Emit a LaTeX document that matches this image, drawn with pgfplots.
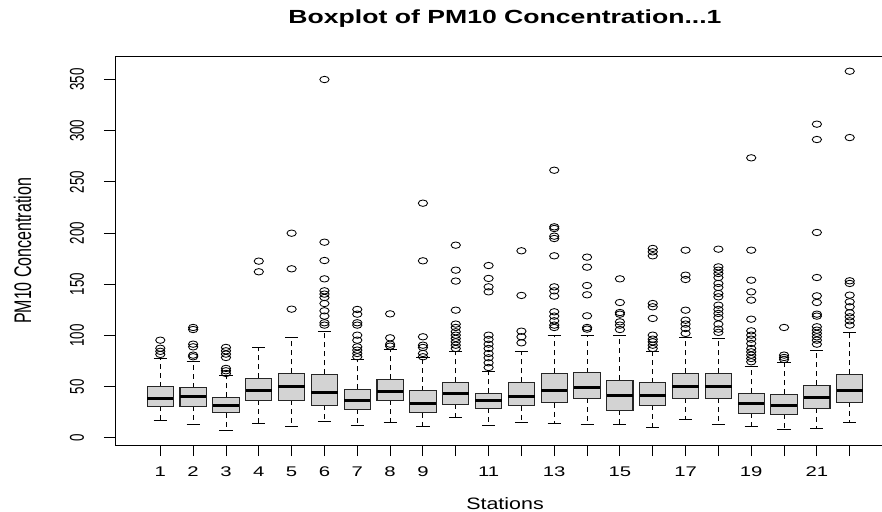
\documentclass[border=0pt]{standalone}
\usepackage{fontspec}
\setmainfont{Liberation Sans}
\newfontfamily\hfont[FakeStretch=1.45]{Liberation Sans}
\newfontfamily\sfont[FakeStretch=1.3]{Liberation Sans}
\newfontfamily\tfont[FakeStretch=1.4]{Liberation Sans}
\newfontfamily\vfont[FakeStretch=0.667]{Liberation Sans}
\usepackage{pgfplots}
\usepgfplotslibrary{statistics}
\pgfplotsset{compat=1.18}
\definecolor{boxgray}{HTML}{D3D3D3}
\pgfplotsset{
  /pgfplots/boxplot/every box/.style={draw=black!85, fill=boxgray, line width=1.1pt},
  /pgfplots/boxplot/every median/.style={draw=black, line width=3pt},
  /pgfplots/boxplot/draw/upper whisker/.code={%
    \draw[black, line width=0.9pt, dash pattern=on 5pt off 4pt]
      (boxplot box cs:\pgfplotsboxplotvalue{upper quartile},0.5) -- (boxplot box cs:\pgfplotsboxplotvalue{upper whisker},0.5);
    \draw[black, line width=0.9pt]
      (boxplot whisker cs:\pgfplotsboxplotvalue{upper whisker},0) -- (boxplot whisker cs:\pgfplotsboxplotvalue{upper whisker},1);
  },
  /pgfplots/boxplot/draw/lower whisker/.code={%
    \draw[black, line width=0.9pt, dash pattern=on 5pt off 4pt]
      (boxplot box cs:\pgfplotsboxplotvalue{lower quartile},0.5) -- (boxplot box cs:\pgfplotsboxplotvalue{lower whisker},0.5);
    \draw[black, line width=0.9pt]
      (boxplot whisker cs:\pgfplotsboxplotvalue{lower whisker},0) -- (boxplot whisker cs:\pgfplotsboxplotvalue{lower whisker},1);
  },
}
\newcommand{\bp}[7]{%
\addplot[black, mark=o, mark size=3.2pt, mark options={solid, xscale=1.45, line width=0.85pt},
  boxplot prepared={draw direction=y, draw position=#1, box extend=0.8, whisker extend=0.4, lower whisker=#2, lower quartile=#3, median=#4, upper quartile=#5, upper whisker=#6}]
  coordinates {#7};}
\begin{document}
\begin{tikzpicture}[x=1pt,y=1pt]
\begin{axis}[
  at={(115pt,66pt)}, anchor=south west,
  scale only axis, width=780pt, height=388pt,
  xmin=-0.38, xmax=23.38, ymin=-7, ymax=372,
  /pgf/number format/assume math mode=true,
  axis line style={line width=1pt, black},
  tick align=outside, tick pos=left,
  major tick length=11pt,
  tick style={line width=0.9pt, black},
  xtick={1,2,3,4,5,6,7,8,9,11,13,15,17,19,21},
  extra x ticks={10,12,14,16,18,20,22},
  extra x tick labels={},
  ytick={0,50,...,350},
  xticklabel style={font=\hfont\fontsize{14}{16}\selectfont, anchor=base, inner sep=0pt, yshift=-20pt},
  yticklabel style={font=\vfont\fontsize{20}{22}\selectfont, xshift=-20pt, rotate=90, anchor=base, inner sep=0pt},
  title={Boxplot of PM10 Concentration...1},
  title style={font=\tfont\bfseries\fontsize{19}{22}\selectfont, at={(axis description cs:0.5,1.0714)}, anchor=base, inner sep=0pt},
  xlabel={Stations},
  xlabel style={font=\sfont\fontsize{16.5}{19}\selectfont, at={(axis description cs:0.5,-0.165)}, anchor=base, inner sep=0pt},
  ylabel={PM10 Concentration},
  ylabel style={font=\vfont\fontsize{24}{26}\selectfont, at={(axis description cs:-0.1186,0.5)}, anchor=center, inner sep=0pt},
]
\bp{1}{17.3}{31.0}{38.5}{49.9}{77.5}{(0,95.4) (0,87.5) (0,84.5) (0,81.5)}
\bp{2}{13.1}{31.0}{40.1}{48.9}{74.3}{(0,107.8) (0,105.8) (0,91.5) (0,88.9) (0,80.8) (0,79.2)}
\bp{3}{7.5}{24.5}{32.0}{39.4}{61.3}{(0,88.3) (0,85.0) (0,81.8) (0,78.5) (0,67.8) (0,65.5) (0,62.9)}
\bp{4}{14.1}{36.8}{46.0}{58.0}{88.3}{(0,172.6) (0,162.2)}
\bp{5}{10.8}{36.8}{49.9}{62.9}{98.0}{(0,199.9) (0,165.1) (0,125.7)}
\bp{6}{15.7}{32.0}{44.3}{61.9}{104.2}{(0,350) (0,191.1) (0,173.2) (0,155.3) (0,143.6) (0,140.4) (0,137.1) (0,131.2) (0,124.1) (0,118.9) (0,112.4) (0,110.1)}
\bp{7}{12.4}{28.1}{36.2}{47.3}{76.5}{(0,125.4) (0,120.8) (0,112.4) (0,110.1) (0,100.3) (0,95.4) (0,88.9) (0,85.7) (0,82.4) (0,79.2)}
\bp{8}{15.0}{36.8}{45.0}{57.0}{86.3}{(0,121.1) (0,97.7) (0,91.5) (0,89.6)}
\bp{9}{11.4}{24.5}{33.6}{46.0}{78.2}{(0,229.2) (0,172.9) (0,98.7) (0,90.5) (0,88.3) (0,82.4) (0,79.2)}
\bp{10}{19.6}{32.9}{43.4}{54.1}{84.0}{(0,188.2) (0,163.8) (0,153.1) (0,124.7) (0,111.1) (0,107.8) (0,103.6) (0,100.3) (0,97.1) (0,93.8) (0,90.5) (0,87.3)}
\bp{11}{11.8}{28.7}{36.2}{43.4}{64.5}{(0,168.3) (0,155.7) (0,147.5) (0,142.6) (0,100.3) (0,96.1) (0,91.5) (0,87.3) (0,82.4) (0,78.2) (0,73.3) (0,68.7)}
\bp{12}{15.0}{31.3}{40.7}{54.1}{84.0}{(0,182.7) (0,139.1) (0,104.2) (0,98.7) (0,92.8)}
\bp{13}{14.1}{34.2}{46.6}{62.9}{100.3}{(0,261.4) (0,206.1) (0,204.5) (0,197.0) (0,194.7) (0,177.8) (0,147.5) (0,143.6) (0,138.4) (0,123.1) (0,118.9) (0,114.3) (0,110.1) (0,107.8)}
\bp{14}{13.1}{38.5}{49.2}{63.5}{100.3}{(0,176.5) (0,166.7) (0,148.8) (0,139.7) (0,119.2) (0,107.8) (0,106.2)}
\bp{15}{13.4}{27.1}{41.7}{56.4}{99.6}{(0,155.3) (0,132.2) (0,122.4) (0,120.8) (0,113.3) (0,110.1) (0,105.8)}
\bp{16}{10.1}{31.6}{41.1}{53.8}{84.0}{(0,185.0) (0,181.7) (0,177.8) (0,131.2) (0,128.0) (0,116.6) (0,100.3) (0,96.4) (0,93.8) (0,90.5) (0,87.3)}
\bp{17}{18.3}{38.5}{50.5}{62.9}{98.0}{(0,183.3) (0,158.9) (0,154.7) (0,124.7) (0,114.9) (0,111.1) (0,106.8) (0,102.0)}
\bp{18}{13.1}{38.5}{49.9}{62.9}{97.1}{(0,184.3) (0,167.0) (0,163.8) (0,160.5) (0,156.6) (0,150.8) (0,146.9) (0,141.0) (0,137.7) (0,129.6) (0,125.4) (0,121.5) (0,117.6) (0,111.1) (0,106.2) (0,103.0)}
\bp{19}{10.8}{23.8}{33.6}{43.4}{69.4}{(0,273.5) (0,183.3) (0,154.0) (0,142.6) (0,134.5) (0,115.9) (0,104.5) (0,100.3) (0,96.4) (0,92.2) (0,87.3) (0,84.0) (0,80.8) (0,77.5) (0,74.3)}
\bp{20}{8.2}{23.2}{31.3}{42.7}{73.3}{(0,107.8) (0,80.8) (0,78.5) (0,76.6)}
\bp{21}{9.2}{28.7}{39.4}{51.5}{85.0}{(0,306.4) (0,291.4) (0,200.6) (0,156.6) (0,138.7) (0,132.2) (0,120.8) (0,118.9) (0,108.5) (0,105.2) (0,102.0) (0,98.7) (0,95.4) (0,91.5)}
\bp{22}{15.0}{34.6}{46.6}{61.9}{102.6}{(0,358.1) (0,293.3) (0,153.4) (0,150.8) (0,139.4) (0,132.9) (0,128.0) (0,122.1) (0,118.2) (0,114.3) (0,110.1)}
\end{axis}
\pgfresetboundingbox
\useasboundingbox (0pt,0pt) rectangle (882pt,511pt);
\end{tikzpicture}
\end{document}
